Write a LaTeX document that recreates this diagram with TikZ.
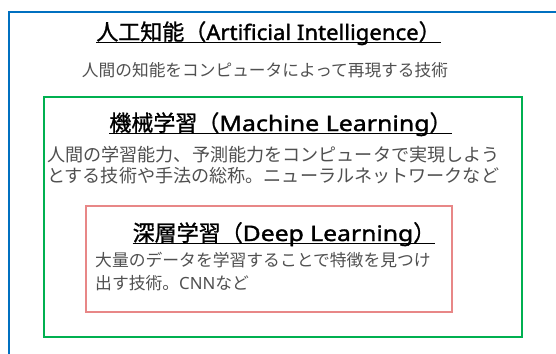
\documentclass[tikz,border=0pt]{standalone}
\usepackage{fontspec}
\newfontfamily\jp{Noto Sans CJK JP}
\newfontfamily\jpt[FakeBold=1.2]{Noto Sans CJK JP}
\newfontfamily\lat{Noto Sans}
\definecolor{aiblue}{RGB}{0,112,192}
\definecolor{mlgreen}{RGB}{0,176,80}
\definecolor{dlred}{RGB}{232,135,135}
\definecolor{bodygray}{RGB}{80,80,80}
\newcommand\ttltext[3]{{\jpt #1（}{\lat\addfontfeature{FakeStretch=#3,FakeBold=1.6}\fontsize{21.3}{25}\selectfont #2}{\jpt ）}}
\tikzset{
  ttl/.style={inner sep=0pt, anchor=base, text=black, font=\fontsize{22}{26}\selectfont},
  bodytxt/.style={inner sep=0pt, anchor=base west, text=bodygray, font=\jp\fontsize{16.8}{21}\selectfont},
  subtxt/.style={inner sep=0pt, anchor=base, text=bodygray, font=\jp\fontsize{16.7}{21}\selectfont},
  uline/.style={line width=1.1pt, black},
  frame/.style={line width=2pt}
}
\begin{document}
\begin{tikzpicture}[x=1pt,y=-1pt]
\useasboundingbox (0,0) rectangle (556,353);
\clip (0,0) rectangle (556,353);
\fill[white] (0,0) rectangle (556,353);
\draw[frame, aiblue] (9,370) -- (9,12) -- (570,12);
\draw[frame, mlgreen, line width=2.5pt] (44,97) rectangle (522,337);
\draw[frame, dlred] (86,206) rectangle (452,312);

\node[ttl] (ai) at (268.5,40) {\ttltext{人工知能}{Artificial Intelligence}{1.04}};
\draw[uline] ([yshift=-2.5pt]ai.base west) -- ([yshift=-2.5pt]ai.base east);
\node[subtxt] (aisub) at (265,76) {人間の知能をコンピュータによって再現する技術};

\node[ttl] (ml) at (280.5,131) {\ttltext{機械学習}{Machine Learning}{1.17}};
\draw[uline] ([yshift=-2.5pt]ml.base west) -- ([yshift=-2.5pt]ml.base east);
\node[bodytxt, font=\jp\fontsize{18.1}{21}\selectfont] (ml1) at (47,161) {人間の学習能力、予測能力をコンピュータで実現しよう};
\node[bodytxt, font=\jp\fontsize{18.1}{21}\selectfont] (ml2) at (47,182) {とする技術や手法の総称。ニューラルネットワークなど};

\node[ttl] (dl) at (284,241) {\ttltext{深層学習}{Deep Learning}{1.16}};
\draw[uline] ([yshift=-2.5pt]dl.base west) -- ([yshift=-2.5pt]dl.base east);
\node[bodytxt] (dl1) at (95,266) {大量のデータを学習することで特徴を見つけ};
\node[bodytxt] (dl2) at (95,289) {出す技術。{\lat CNN}など};
\end{tikzpicture}
\end{document}
